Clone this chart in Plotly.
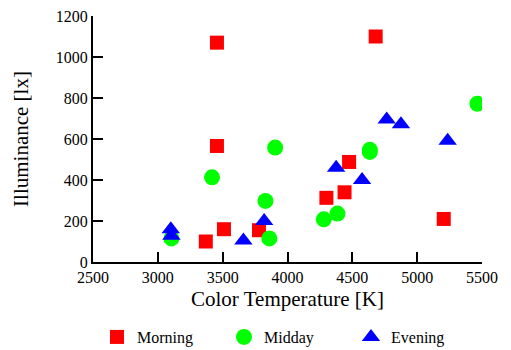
import plotly.graph_objects as go

morning_x = [3456, 4680, 3456, 3510, 3370, 3780, 4300, 4440, 4475, 5205]
morning_y = [1070, 1100, 566, 160, 100, 155, 313, 340, 488, 210]

midday_x = [3418, 3105, 3905, 3830, 3860, 4280, 4385, 4635, 4635, 5465]
midday_y = [413, 115, 558, 298, 115, 208, 236, 547, 537, 772]

evening_x = [3100, 3105, 3660, 3820, 4375, 4575, 4765, 4875, 5235]
evening_y = [160, 128, 105, 200, 460, 400, 695, 672, 592]

x_ticks = [2500, 3000, 3500, 4000, 4500, 5000, 5500]
y_ticks = [0, 200, 400, 600, 800, 1000, 1200]

FONT = "Liberation Serif"

fig = go.Figure()
fig.add_trace(go.Scatter(x=morning_x, y=morning_y, mode="markers", name="Morning",
                         marker=dict(symbol="square", size=14, color="#ff0000")))
fig.add_trace(go.Scatter(x=midday_x, y=midday_y, mode="markers", name="Midday",
                         marker=dict(symbol="circle", size=16, color="#00ff00")))
fig.add_trace(go.Scatter(x=evening_x, y=evening_y, mode="markers", name="Evening",
                         marker=dict(symbol="triangle-up", size=16, color="#0000ff")))

axis_common = dict(showline=True, linecolor="black", linewidth=2, ticks="inside",
                   ticklen=10, tickwidth=2, tickcolor="black", showgrid=False,
                   zeroline=False, mirror=False, ticklabeloverflow="allow",
                   tickfont=dict(family=FONT, size=16, color="black"))

# page body has an 8px margin, so the figure is drawn 8px smaller and offset
fig.update_layout(
    width=503, height=342,
    margin=dict(l=85, r=29, t=8, b=88, autoexpand=False),
    paper_bgcolor="white", plot_bgcolor="white",
    font=dict(family=FONT, size=16, color="black"),
    xaxis=dict(range=[2500, 5500], tickvals=x_ticks, ticktext=[str(v) for v in x_ticks],
               title=dict(text="Color Temperature [K]", font=dict(family=FONT, size=21), standoff=6),
               automargin=False, **axis_common),
    yaxis=dict(range=[0, 1200], tickvals=y_ticks, ticktext=[str(v) for v in y_ticks],
               title=dict(text="Illuminance [lx]", font=dict(family=FONT, size=21), standoff=21),
               automargin=False, **axis_common),
    showlegend=True,
    legend=dict(orientation="h", x=0.5, xanchor="center", y=-0.305, yanchor="middle",
                font=dict(family=FONT, size=16), entrywidth=82, entrywidthmode="pixels",
                bgcolor="rgba(0,0,0,0)"),
)

fig.write_html("out.html")
